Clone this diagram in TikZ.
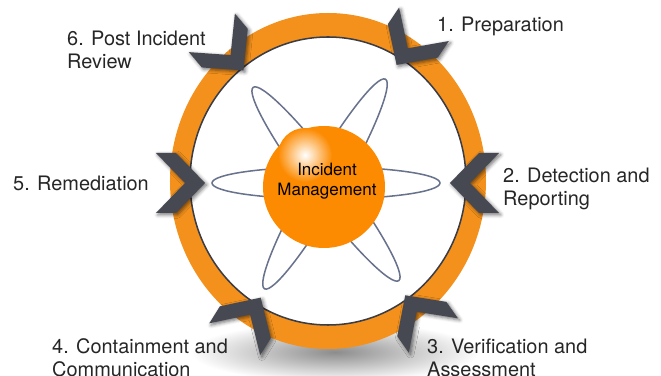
\documentclass[tikz,border=0pt]{standalone}
\usepackage{fontspec}
\setmainfont{TeX Gyre Heros}
\usepackage{xcolor}
\usepackage{tikz}
\usetikzlibrary{shadows.blur}

\definecolor{ringorange}{RGB}{243,145,28}
\definecolor{ballorange}{RGB}{252,139,2}
\definecolor{chevgray}{RGB}{70,72,82}
\definecolor{orbitblue}{RGB}{104,114,140}
\definecolor{edgegray}{RGB}{58,60,70}

\tikzset{
	phase/.style={anchor=west,inner sep=0pt,align=left,text=black!85,font=\fontsize{17}{20}\selectfont},
	orbit/.style={draw=orbitblue,line width=1.3pt},
	chevfill/.style={fill=chevgray,blur shadow={shadow xshift=1.5pt,shadow yshift=-1.5pt,shadow blur radius=3pt,shadow opacity=55}},
	chevron/.pic={\fill[chevfill] (-25,30) -- (-5,30) -- (24,0) -- (-5,-30) -- (-25,-30) -- (4,0) -- cycle;}
}

\begin{document}
\begin{tikzpicture}[x=0.03cm,y=0.03cm]
	\useasboundingbox (-328,-195) rectangle (333,181);

	% soft shadow below the ring
	\shade[inner color=black!45,outer color=white] (7,-171) ellipse (145 and 30);

	% ring
	\fill[ringorange,even odd rule] (0,0) ellipse (158 and 168) (0,0) ellipse (138 and 144);
	\draw[edgegray,line width=1.3pt] (0,0) ellipse (138 and 144);

	% orbits
	\draw[orbit] (-2,-2) ellipse (114 and 16);
	\draw[orbit,shift={(-2,-3)},rotate=-53] (0,0) ellipse (121 and 17);
	\draw[orbit,shift={(-3,-3)},rotate=60] (0,0) ellipse (121 and 17);

	% core ball
	\fill[ballorange] (-4,-6) circle (61);
	\shade[inner color=white,outer color=ballorange] (-23,26) circle (27);
	\node[align=center,inner sep=0pt,text=black,font=\fontsize{14.5}{17}\selectfont] (core) at (-1,0) {Incident\\Management};

	% chevrons on the ring
	\pic[rotate=236] at (82,136) {chevron};
	\pic[rotate=180] at (146,-2) {chevron};
	\pic[rotate=125] at (91,-134) {chevron};
	\pic[rotate=58] at (-80,-137) {chevron};
	\pic[rotate=0] at (-147,-2) {chevron};
	\pic[rotate=-50] at (-100,129) {chevron};

	% phases
	\node[phase] (prep) at (109,155) {1. Preparation};
	\node[phase] (detect) at (175,-8) {2. Detection and\\Reporting};
	\node[phase] (verify) at (99,-177) {3. Verification and\\Assessment};
	\node[phase] (contain) at (-276,-177) {4. Containment and\\Communication};
	\node[phase] (remedy) at (-315,-2) {5. Remediation};
	\node[phase] (review) at (-261,131) {6. Post Incident\\Review};
\end{tikzpicture}
\end{document}
